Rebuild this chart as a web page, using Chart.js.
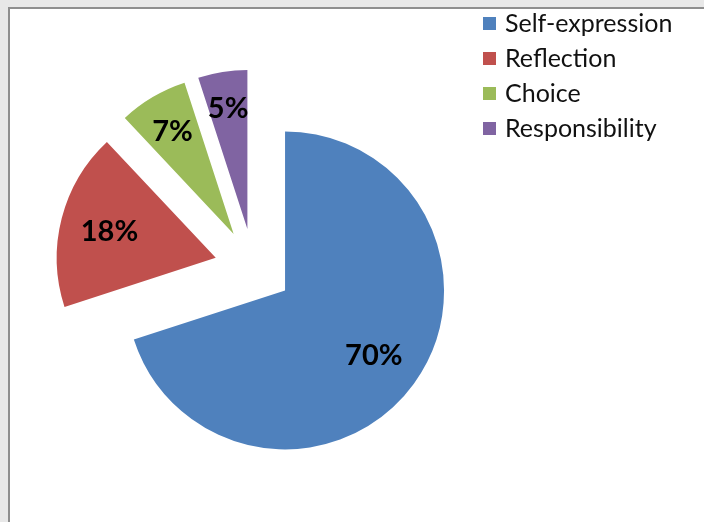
<!DOCTYPE html>
<html>
<head>
<meta charset="utf-8">
<script src="https://cdn.jsdelivr.net/npm/chart.js@4/dist/chart.umd.min.js"></script>
<style>
  html, body { margin: 0; padding: 0; width: 704px; height: 522px; overflow: hidden; background: #e8e8e8; }
  #frame { position: absolute; left: 8px; top: 7px; right: 0; bottom: 0; background: #fff;
           border-left: 2px solid #8e8e8e; border-top: 2px solid #8e8e8e; }
  #wrap { position: absolute; left: 0; top: 0; width: 704px; height: 522px; }
  #legend { position: absolute; left: 483px; top: 5px; font-family: Lato, sans-serif; font-size: 25px; color: #111; }
  .item { height: 35px; line-height: 35px; display: flex; align-items: flex-start; white-space: nowrap; }
  .box { width: 13px; height: 13px; margin-top: 12px; margin-right: 9px; }
</style>
</head>
<body>
<div id="frame"></div>
<div id="wrap"><canvas id="chart-pie"></canvas></div>
<div id="legend"></div>
<script>
const categories = ['Self-expression', 'Reflection', 'Choice', 'Responsibility']
const shares = [70, 18, 7, 5]
const colors = ['#4F81BD', '#C0504D', '#9BBB59', '#8064A2']
const labelRadius = [0.69, 0.69, 0.755, 0.775]
const EXPLODE = 39

// push every slice out along its middle angle
const explode = {
  id: 'explode',
  afterDatasetUpdate (chart, args) {
    args.meta.data.forEach(arc => {
      const mid = (arc.startAngle + arc.endAngle) / 2
      arc.x += Math.cos(mid) * EXPLODE
      arc.y += Math.sin(mid) * EXPLODE
    })
  }
}

const sliceLabels = {
  id: 'sliceLabels',
  afterDatasetsDraw (chart) {
    const ctx = chart.ctx
    const size = 29
    ctx.save()
    ctx.font = 'bold ' + size + 'px Lato, sans-serif'
    ctx.fillStyle = '#000'
    ctx.textAlign = 'center'
    ctx.textBaseline = 'alphabetic'
    chart.getDatasetMeta(0).data.forEach((arc, i) => {
      const mid = (arc.startAngle + arc.endAngle) / 2
      const r = arc.outerRadius * labelRadius[i]
      ctx.fillText(shares[i] + '%', arc.x + Math.cos(mid) * r, arc.y + Math.sin(mid) * r + size * 0.36)
    })
    ctx.restore()
  }
}

const chartElement = document.getElementById('chart-pie').getContext('2d')

const pieChart = new Chart(chartElement, {
  type: 'pie',
  data: {
    labels: categories,
    datasets: [{
      data: shares,
      backgroundColor: colors,
      borderWidth: 0,
      radius: 159
    }]
  },
  options: {
    responsive: true,
    maintainAspectRatio: false,
    animation: false,
    layout: { padding: { top: 13, right: 197, bottom: 0, left: 0 } },
    plugins: {
      legend: { display: false },
      tooltip: { enabled: false }
    }
  },
  plugins: [explode, sliceLabels]
})

const legend = document.getElementById('legend')
categories.forEach((name, i) => {
  const row = document.createElement('div')
  row.className = 'item'
  const box = document.createElement('span')
  box.className = 'box'
  box.style.background = colors[i]
  row.appendChild(box)
  row.appendChild(document.createTextNode(name))
  legend.appendChild(row)
})
</script>
</body>
</html>
